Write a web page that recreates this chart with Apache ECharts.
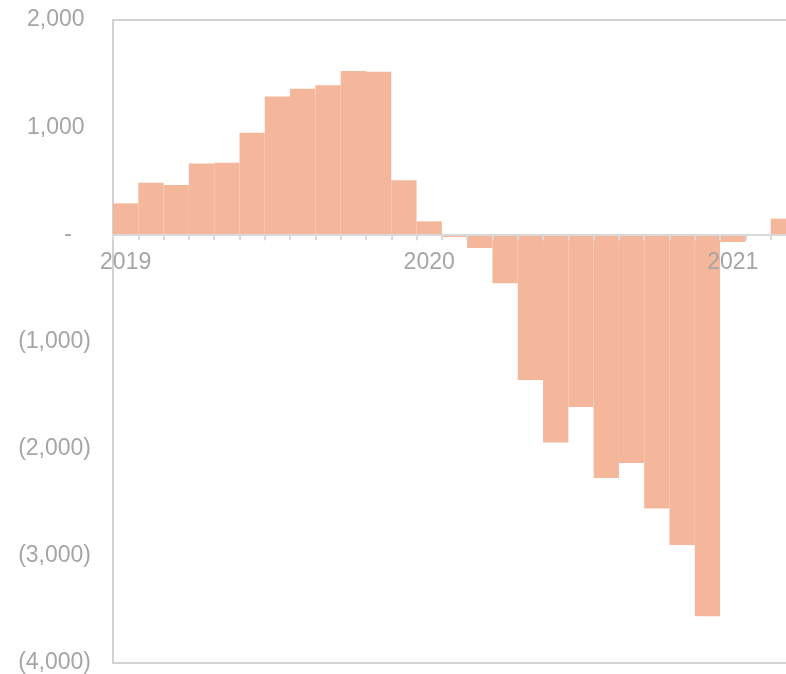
<!DOCTYPE html>
<html>
<head>
<meta charset="utf-8">
<script src="https://cdn.jsdelivr.net/npm/echarts@6/dist/echarts.min.js"></script>
<style>
html,body{margin:0;padding:0;background:#fff;}
#c{width:786px;height:674px;}
</style>
</head>
<body>
<div id="c"></div>
<script>
const months = [
  "2019-01","2019-02","2019-03","2019-04","2019-05","2019-06","2019-07","2019-08","2019-09","2019-10","2019-11","2019-12",
  "2020-01","2020-02","2020-03","2020-04","2020-05","2020-06","2020-07","2020-08","2020-09","2020-10","2020-11","2020-12",
  "2021-01","2021-02","2021-03"
];
const values = [
  289, 482, 460, 660, 669, 949, 1285, 1359, 1390, 1524, 1518, 504,
  121, -25, -128, -457, -1359, -1943, -1611, -2273, -2133, -2559, -2898, -3563,
  -72, -16, 146
];
const yMin = -4000, yMax = 2000, yStep = 1000;

function fmtNum(n){ return n.toString().replace(/\B(?=(\d{3})+(?!\d))/g, ","); }

const chart = echarts.init(document.getElementById('c'), null, {renderer:'canvas'});
const option = {
  animation: false,
  grid: {left:113, right:-10, top:20, bottom:11, show:true, borderColor:'#c4c4c4', borderWidth:1.5, backgroundColor:'transparent', containLabel:false, outerBoundsMode:'none'},
  xAxis: {
    type:'category',
    data: months,
    z: 10,
    offset: 0,
    axisLine: {onZero:false, lineStyle:{color:'#d9d9d9', width:2}},
    axisTick: {show:true, alignWithLabel:false, interval:0, length:6, lineStyle:{color:'#d9d9d9', width:2}},
    axisLabel: {
      interval: 11,
      margin: 17,
      color:'#a5a5a5',
      fontFamily:'Liberation Sans, Arial, sans-serif',
      fontSize:23,
      formatter: v => v.slice(0,4)
    },
    splitLine:{show:false}
  },
  yAxis: {
    type:'value',
    min:yMin, max:yMax, interval:yStep,
    axisLine:{show:false},
    axisTick:{show:false},
    splitLine:{show:false},
    axisLabel:{
      margin: 22,
      color:'#a5a5a5',
      fontFamily:'Liberation Sans, Arial, sans-serif',
      fontSize:23,
      formatter: v => v === 0 ? '-   ' : (v < 0 ? '(' + fmtNum(-v) + ')' : fmtNum(v) + ' ')
    }
  },
  series: [{
    type:'bar',
    data: values,
    barCategoryGap:'0%',
    itemStyle:{color:'#F4B79B', borderWidth:0}
  }]
};
chart.setOption(option);
// move the category axis up to the zero line, using the library's own value scale
const yZero = chart.convertToPixel({yAxisIndex:0}, 0);
const yBottom = chart.convertToPixel({yAxisIndex:0}, yMin);
chart.setOption({xAxis:{offset: -(yBottom - yZero)}});
</script>
</body>
</html>
